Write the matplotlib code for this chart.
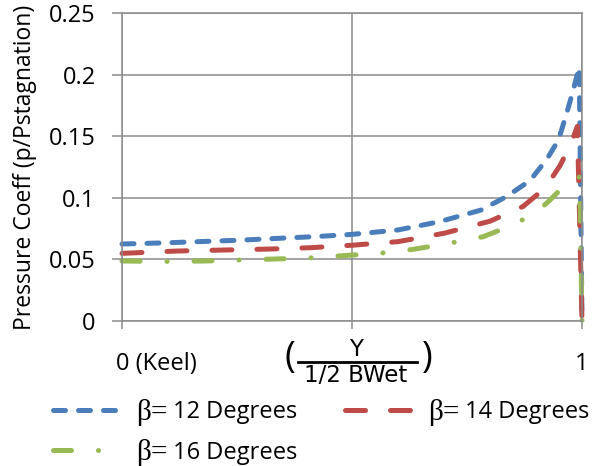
import matplotlib
matplotlib.use("Agg")
import matplotlib.pyplot as plt
from matplotlib.lines import Line2D
from matplotlib.transforms import ScaledTranslation

plt.rcParams['font.family'] = ['Open Sans', 'DejaVu Sans']

# pressure coefficient along the half wetted beam, keel (0) to chine (1)
x_12 = [0, 0.1, 0.165, 0.25, 0.34, 0.42, 0.5, 0.6, 0.69, 0.78, 0.836, 0.887, 0.923, 0.949, 0.967, 0.981, 0.994, 1.0]
cp_12 = [0.0625, 0.0635, 0.0644, 0.0655, 0.0671, 0.0685, 0.0703, 0.0739, 0.0806, 0.090, 0.101, 0.114, 0.131, 0.147, 0.169, 0.1875, 0.206, 0.0]

x_14 = [0, 0.12, 0.22, 0.32, 0.41, 0.5, 0.6, 0.7, 0.8, 0.872, 0.92, 0.952, 0.975, 0.99, 1.0]
cp_14 = [0.0549, 0.0568, 0.0576, 0.0584, 0.0595, 0.0615, 0.0644, 0.0712, 0.081, 0.093, 0.108, 0.126, 0.143, 0.158, 0.0]

x_16 = [0, 0.1, 0.18, 0.25, 0.33, 0.4, 0.5, 0.56, 0.63, 0.71, 0.785, 0.85, 0.9, 0.93, 0.967, 0.995, 1.0]
cp_16 = [0.0487, 0.0483, 0.0487, 0.0495, 0.0503, 0.051, 0.0535, 0.055, 0.058, 0.063, 0.0684, 0.078, 0.088, 0.098, 0.112, 0.117, 0.0]

deadrise = ["12 Degrees", "14 Degrees", "16 Degrees"]
y_ticks = [0, 0.05, 0.1, 0.15, 0.2, 0.25]
y_tick_labels = ["0", "0.05", "0.1", "0.15", "0.2", "0.25"]
x_ticks = [0, 0.5, 1]
x_tick_labels = ["0 (Keel)", "", "1"]

GRID = '#8c8c8c'
colors = ['#4a7ebb', '#be4b48', '#98b954']
dashes = [(0, (2.4, 2.6)), (0, (4.0, 5.0)), (0, (3.6, 5.4, 0.01, 5.4))]

W, H = 598, 466


def fx(px):
    return px / W


def fy(py):
    return 1 - py / H


fig = plt.figure(figsize=(W / 100, H / 100), dpi=100)
ax = fig.add_axes([fx(122), fy(321), fx(582) - fx(122), fy(13) - fy(321)])

series = [(x_12, cp_12), (x_14, cp_14), (x_16, cp_16)]
lines = []
for (xs, ys), name, c, ls in zip(series, deadrise, colors, dashes):
    ln, = ax.plot(xs, ys, color=c, linestyle=ls, lw=3.6, dash_capstyle='round',
                  clip_on=False, label=name)
    lines.append(ln)

ax.set_xlim(0, 1)
ax.set_ylim(0, 0.25)
ax.set_yticks(y_ticks)
ax.set_yticklabels(y_tick_labels)
ax.set_xticks(x_ticks)
ax.set_xticklabels(x_tick_labels)
ax.grid(True, color=GRID, lw=1.1)
ax.set_axisbelow(True)
for sp in ax.spines.values():
    sp.set_color(GRID)
    sp.set_linewidth(1.1)

ax.tick_params(axis='y', length=7, width=1.1, color=GRID, pad=12, labelsize=17)
ax.tick_params(axis='x', length=6, width=1.1, color=GRID, pad=16, labelsize=17)
keel = ax.get_xticklabels()[0]
keel.set_ha('left')
keel.set_transform(keel.get_transform() + ScaledTranslation(-6 / 100, 0, fig.dpi_scale_trans))

ax.set_ylabel('Pressure Coeff (p/Pstagnation)', fontsize=16.5)
ax.yaxis.set_label_coords(-0.185, 0.5)

# x axis title drawn as a fraction Y / (1/2 BWet) in brackets
frac_font = dict(family='DejaVu Sans', fontsize=16.5, color='black')
fig.text(fx(290), fy(358), '(', ha='center', va='center', fontsize=26, color='black')
fig.text(fx(427), fy(358), ')', ha='center', va='center', fontsize=26, color='black')
fig.text(fx(356), fy(350), 'Y', ha='center', va='center', **frac_font)
fig.text(fx(356), fy(376), '1/2 BWet', ha='center', va='center', **frac_font)
fig.add_artist(Line2D([fx(298), fx(417)], [fy(362), fy(362)], color='black', lw=2.0,
                      transform=fig.transFigure))

# two columns filled row by row: 12 and 14 on top, 16 below
order = [0, 2, 1]
leg = fig.legend([lines[i] for i in order], [lines[i].get_label() for i in order],
                 loc='upper left', bbox_to_anchor=(fx(53), fy(400)), ncol=2, frameon=False,
                 fontsize=17, handlelength=2.97, handletextpad=2.1, columnspacing=2.05,
                 labelspacing=0.7, borderpad=0, borderaxespad=0)

# lay the legend out once so its texts have positions to hang the symbols on
fig.canvas.draw()

# deadrise symbol in a larger serif face in front of each legend entry
for txt in leg.get_texts():
    ax.annotate('β=', xy=(0, 0.5), xycoords=txt, xytext=(-4, 0), textcoords='offset points',
                ha='right', va='center', family='Liberation Serif', fontsize=21,
                annotation_clip=False)

fig.savefig('out.png', dpi=100)
